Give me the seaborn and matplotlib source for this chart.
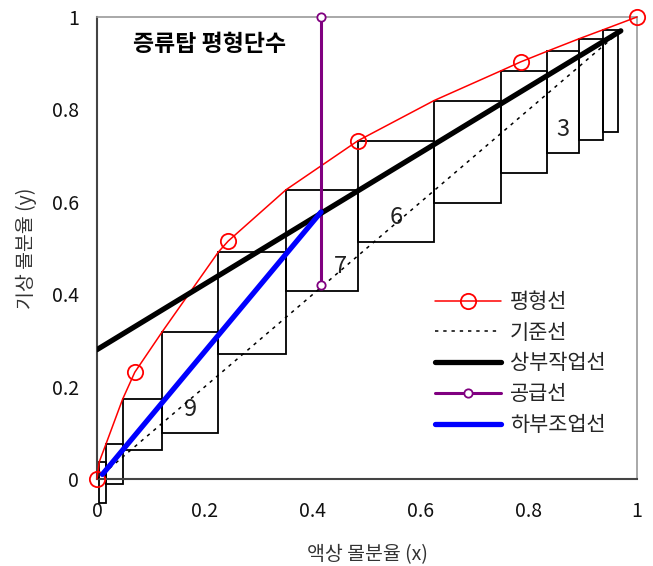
import matplotlib
matplotlib.use("Agg")
import matplotlib.pyplot as plt
import numpy as np
import pandas as pd
import seaborn as sns

sns.set_theme(style="white")
plt.rcParams["font.family"] = ["Noto Sans CJK KR", "DejaVu Sans"]

# Vapour-liquid equilibrium curve
eq_x = [0.0, 0.0043, 0.0167, 0.0474, 0.070, 0.121, 0.2246, 0.243, 0.350, 0.483,
        0.624, 0.749, 0.785, 0.834, 0.893, 0.9365, 1.0]
eq_y = [0.0, 0.0374, 0.0758, 0.1725, 0.231, 0.319, 0.491, 0.515, 0.626, 0.732,
        0.819, 0.884, 0.903, 0.926, 0.953, 0.972, 1.0]
eq_marked = [0, 4, 7, 9, 12, 16]

# Reference (y = x) line
diag_x = [0.0, 0.97]
diag_y = [0.0, 0.97]

# Rectifying operating line
top_x = [0.0, 0.97]
top_y = [0.28, 0.97]

# Feed line
feed_x = [0.415, 0.415]
feed_y = [0.42, 1.0]

# Stripping operating line
bot_x = [0.01, 0.415]
bot_y = [0.01, 0.578]

# Equilibrium stages (from the top of the column)
stage_x = [0.9365, 0.893, 0.834, 0.749, 0.624, 0.483, 0.350, 0.2246, 0.121, 0.0474, 0.0167, 0.0043]
stage_y = [0.972, 0.953, 0.926, 0.882, 0.819, 0.732, 0.626, 0.491, 0.319, 0.1725, 0.0758, 0.0374]
stage_floor = [0.752, 0.734, 0.705, 0.662, 0.597, 0.513, 0.407, 0.270, 0.099, 0.063, -0.0115, -0.0513]
stage_start_x = 0.965
labelled_stages = [3, 6, 7, 9]

x_ticks = [0, 0.2, 0.4, 0.6, 0.8, 1]
tick_labels = ["0", "0.2", "0.4", "0.6", "0.8", "1"]

fig = plt.figure(figsize=(6.53, 5.66), dpi=100)
ax = fig.add_axes([0.1485, 0.1537, 0.8270, 0.8163])

# stage boxes: each spans from its own liquid composition to the previous one
right_edges = [stage_start_x] + stage_x[:-1]
widths = [r - l for l, r in zip(stage_x, right_edges)]
heights = [t - b for t, b in zip(stage_y, stage_floor)]
ax.bar(stage_x, heights, width=widths, bottom=stage_floor, align="edge",
       fill=False, edgecolor="black", linewidth=1.3, clip_on=False, zorder=2)

for n in labelled_stages:
    i = n - 1
    cx = (stage_x[i] + right_edges[i]) / 2
    if n == 7:
        cx += 0.035
    ax.text(cx, stage_floor[i] + 0.052, str(n), ha="center", va="center",
            fontsize=17, color="#222222", zorder=3)

eq_df = pd.DataFrame({"x": eq_x, "y": eq_y})
sns.lineplot(data=eq_df, x="x", y="y", ax=ax, sort=False, estimator=None,
             color="red", linewidth=1.1, marker="o", markersize=11,
             markerfacecolor="none", markeredgecolor="red", markeredgewidth=1.3,
             markevery=eq_marked, label="평형선", clip_on=False, zorder=4)
sns.lineplot(x=diag_x, y=diag_y, ax=ax, sort=False, estimator=None,
             color="black", linewidth=1.1, linestyle=(0, (2.2, 3.2)),
             label="기준선", zorder=3)
sns.lineplot(x=top_x, y=top_y, ax=ax, sort=False, estimator=None,
             color="black", linewidth=3.8, label="상부작업선", zorder=5)
sns.lineplot(x=feed_x, y=feed_y, ax=ax, sort=False, estimator=None,
             color="purple", linewidth=2.2, marker="o", markersize=6,
             markerfacecolor="white", markeredgecolor="purple", markeredgewidth=1.3,
             label="공급선", clip_on=False, zorder=4)
sns.lineplot(x=bot_x, y=bot_y, ax=ax, sort=False, estimator=None,
             color="blue", linewidth=3.8, label="하부조업선", zorder=5)

ax.set_xlim(0, 1)
ax.set_ylim(0, 1)
ax.set_xticks(x_ticks)
ax.set_xticklabels(tick_labels)
ax.set_yticks(x_ticks)
ax.set_yticklabels(tick_labels)
ax.tick_params(axis="both", direction="in", length=4, width=1, colors="#444444",
               labelcolor="#111111", labelsize=14)
ax.tick_params(axis="x", pad=16)
ax.tick_params(axis="y", pad=13)

for side in ["left", "bottom"]:
    ax.spines[side].set_color("#444444")
    ax.spines[side].set_linewidth(1.5)
for side in ["top", "right"]:
    ax.spines[side].set_color("#999999")
    ax.spines[side].set_linewidth(1.2)

ax.set_xlabel("액상 몰분율 (x)", fontsize=14, color="#333333", labelpad=16)
ax.set_ylabel("기상 몰분율 (y)", fontsize=14, color="#333333", labelpad=11)

ax.text(0.067, 0.94, "증류탑 평형단수", fontsize=16.5, fontweight="bold",
        ha="left", va="center", color="black", zorder=6)

ax.legend(loc="upper left", bbox_to_anchor=(0.61, 0.425), frameon=False,
          fontsize=15, handlelength=3.2, labelspacing=0.42, handletextpad=0.4,
          borderaxespad=0)

fig.savefig("out.png", dpi=100)
